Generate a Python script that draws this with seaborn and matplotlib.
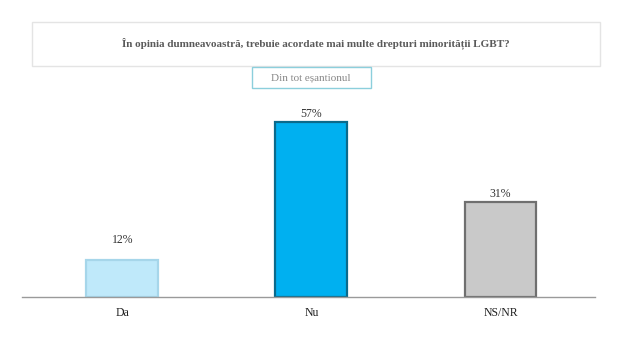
import matplotlib
matplotlib.use("Agg")
import matplotlib.pyplot as plt
from matplotlib.patches import Rectangle
import seaborn as sns
import pandas as pd

categories = ["Da", "Nu", "NS/NR"]
values = [12, 57, 31]
labels = ["12%", "57%", "31%"]
title = "În opinia dumneavoastră, trebuie acordate mai multe drepturi minorității LGBT?"
subtitle = "Din tot eșantionul"

sns.set_theme(style="white")
plt.rcParams['font.family'] = ['Liberation Serif', 'DejaVu Serif']

fig = plt.figure(figsize=(6.2, 3.47), dpi=100)
ax = fig.add_axes([22/620, 1-297/347, (595-22)/620, (297-110)/347])

df = pd.DataFrame({"cat": categories, "val": values})
colors = ["#bfe9fa", "#00b0f0", "#c9c9c9"]
edges = ["#a6d6ea", "#0a6a8c", "#6f6f6f"]
sns.barplot(data=df, x="cat", y="val", hue="cat", palette=colors, legend=False,
            width=0.38, ax=ax, saturation=1)
for p, ec in zip(ax.patches, edges):
    p.set_edgecolor(ec)
    p.set_linewidth(1.6)

offsets = [10, 1.5, 1.5]
for p, lab, off in zip(ax.patches, labels, offsets):
    ax.annotate(lab, (p.get_x() + p.get_width()/2, p.get_height()),
                xytext=(0, off), textcoords="offset points",
                ha="center", va="bottom", fontsize=8.5, color="#333333")

ax.set_xlim(-0.53, 2.5)
ax.set_ylim(0, 60.9)
ax.set_xlabel("")
ax.set_ylabel("")
ax.set_yticks([])
for s in ["top", "right", "left"]:
    ax.spines[s].set_visible(False)
ax.spines["bottom"].set_color("#9a9a9a")
ax.spines["bottom"].set_linewidth(1)
ax.tick_params(axis="x", length=0, pad=7, labelsize=8.5, labelcolor="#222222")

# title box
fig.patches.append(Rectangle((32/620, 1-66/347), (600-32)/620, 44/347,
                             transform=fig.transFigure, facecolor="white",
                             edgecolor="#e4e4e4", linewidth=1))
fig.text(316/620, 1-43/347, title, ha="center", va="center", fontsize=8,
         fontweight="bold", color="#5a5a5a")
# subtitle box
fig.patches.append(Rectangle((252/620, 1-88/347), (371-252)/620, 21/347,
                             transform=fig.transFigure, facecolor="white",
                             edgecolor="#8ccfdc", linewidth=1))
fig.text(311/620, 1-77.5/347, subtitle, ha="center", va="center", fontsize=8,
         color="#888888")

fig.savefig("out.png", dpi=100)
